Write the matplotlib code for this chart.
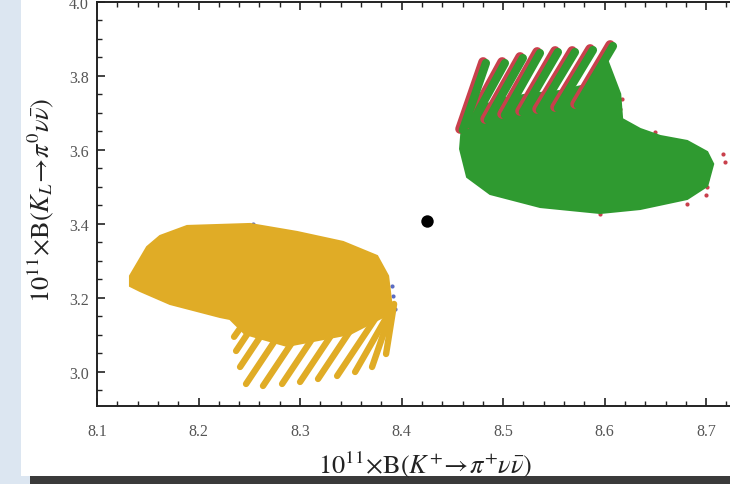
import matplotlib
matplotlib.use('Agg')
import matplotlib.pyplot as plt
from matplotlib.patches import Rectangle
from matplotlib.transforms import offset_copy
from matplotlib.ticker import MultipleLocator

plt.rcParams['mathtext.fontset'] = 'stix'
plt.rcParams['font.family'] = ['Liberation Serif', 'DejaVu Serif']

# ---------------- data ----------------
# orange (yellow) region: solid body outline
orange_body_x = [8.1325, 8.1493, 8.1621, 8.1887, 8.2507, 8.2970, 8.3424, 8.3759, 8.3867,
                 8.3906, 8.3818, 8.3493, 8.2872, 8.2458, 8.2310, 8.2212, 8.1719, 8.1424, 8.1325]
orange_body_y = [3.2595, 3.3378, 3.3676, 3.3946, 3.4000, 3.3784, 3.3514, 3.3135, 3.2595,
                 3.1703, 3.1486, 3.1027, 3.0703, 3.1027, 3.1432, 3.1486, 3.1838, 3.2189, 3.2324]
# orange stripes (lower end -> upper end)
orange_stripe_x0 = [8.2350, 8.2370, 8.2409, 8.2468, 8.2635, 8.2823, 8.3000, 8.3177, 8.3365, 8.3542, 8.3709, 8.3847]
orange_stripe_y0 = [3.0950, 3.0568, 3.0135, 2.9676, 2.9622, 2.9676, 2.9730, 2.9811, 2.9892, 3.0000, 3.0135, 3.0486]
orange_stripe_x1 = [8.2700, 8.2764, 8.2803, 8.2862, 8.3030, 8.3217, 8.3394, 8.3571, 8.3759, 8.3887, 8.3906, 8.3926]
orange_stripe_y1 = [3.2300, 3.2189, 3.1757, 3.1297, 3.1243, 3.1297, 3.1351, 3.1432, 3.1514, 3.1649, 3.1703, 3.1838]
# blue points peeking out of the orange region
blue_x = [8.2537, 8.3906, 8.3916, 8.3936]
blue_y = [3.4000, 3.2324, 3.2054, 3.1703]

# green region: solid body outline
green_body_x = [8.4576, 8.4596, 8.4724, 8.4970, 8.5266, 8.5562, 8.5857, 8.6030, 8.6153, 8.6172,
                8.6350, 8.6547, 8.6813, 8.7010, 8.7069, 8.7010, 8.6813, 8.6350, 8.5956, 8.5365,
                8.4872, 8.4645]
green_body_y = [3.6027, 3.6703, 3.7108, 3.7378, 3.7514, 3.7595, 3.7784, 3.8400, 3.7514, 3.6838,
                3.6568, 3.6378, 3.6243, 3.5946, 3.5622, 3.5027, 3.4676, 3.4405, 3.4297, 3.4459,
                3.4811, 3.5270]
# green stripes (upper end -> lower end)
green_stripe_x0 = [8.4803, 8.4990, 8.5167, 8.5335, 8.5512, 8.5680, 8.5857, 8.6054]
green_stripe_y0 = [3.8378, 3.8378, 3.8514, 3.8649, 3.8676, 3.8676, 3.8730, 3.8838]
green_stripe_x1 = [8.4576, 8.4655, 8.4823, 8.4990, 8.5167, 8.5335, 8.5512, 8.5709]
green_stripe_y1 = [3.6568, 3.6703, 3.6838, 3.6973, 3.7054, 3.7108, 3.7162, 3.7243]
# red points peeking out of the green region
red_x = [8.7167, 8.7187, 8.7010, 8.7010, 8.7000, 8.6813, 8.6153, 8.6172, 8.6498, 8.5956]
red_y = [3.5892, 3.5676, 3.5216, 3.5000, 3.4784, 3.4541, 3.7108, 3.7378, 3.6486, 3.4270]

# Standard Model point
sm_x = [8.425]
sm_y = [3.408]

# axes
x_range = (8.1, 8.753)
y_range = (2.908, 4.0)
xlabel = r'$10^{11}\!\times\!\mathrm{B}(K^{+}\!\rightarrow\!\pi^{+}\nu\bar{\nu})$'
ylabel = r'$10^{11}\!\times\!\mathrm{B}(K_{L}\!\rightarrow\!\pi^{0}\nu\bar{\nu})$'

ORANGE = '#e0ac26'
GREEN = '#2f9a30'
RED = '#c9404c'
BLUE = '#5a6cc4'

# ---------------- figure ----------------
W, H = 730, 485
fig = plt.figure(figsize=(W / 100, H / 100), dpi=100, facecolor='#dce6f1')
fig.patches.append(Rectangle((21 / W, 8 / H), 1 - 21 / W, 1 - 8 / H, transform=fig.transFigure,
                             facecolor='white', edgecolor='none', zorder=-10))
fig.patches.append(Rectangle((30 / W, 0), 1 - 30 / W, 8 / H, transform=fig.transFigure,
                             facecolor='#3a3a3a', edgecolor='none', zorder=-10))

ax = fig.add_axes([97 / W, 78 / H, 663 / W, 404 / H])
ax.set_zorder(1)
ax.set_facecolor('white')
ax.set_xlim(*x_range)
ax.set_ylim(*y_range)

# orange region
ax.fill(orange_body_x, orange_body_y, color=ORANGE, lw=1.5, ec=ORANGE, zorder=3)
for x0, y0, x1, y1 in zip(orange_stripe_x0, orange_stripe_y0, orange_stripe_x1, orange_stripe_y1):
    ax.plot([x0, x1], [y0, y1], color=ORANGE, lw=4.6, solid_capstyle='round', zorder=3)
ax.scatter(blue_x, blue_y, s=9, color=BLUE, zorder=2.5, linewidths=0)

# green region (red underneath)
ax.scatter(red_x, red_y, s=9, color=RED, zorder=2.5, linewidths=0)
ax.fill(green_body_x, green_body_y, color=GREEN, lw=1.5, ec=GREEN, zorder=3)
shift = offset_copy(ax.transData, fig=fig, x=2.0, y=-0.8, units='points')
for x0, y0, x1, y1 in zip(green_stripe_x0, green_stripe_y0, green_stripe_x1, green_stripe_y1):
    ax.plot([x0, x1], [y0, y1], color=RED, lw=7.0, solid_capstyle='round', zorder=3.2)
for x0, y0, x1, y1 in zip(green_stripe_x0, green_stripe_y0, green_stripe_x1, green_stripe_y1):
    ax.plot([x0, x1], [y0, y1], color=GREEN, lw=6.0, solid_capstyle='round', zorder=3.3,
            transform=shift)

# SM point
ax.scatter(sm_x, sm_y, s=80, color='black', zorder=5, linewidths=0)

# axes styling
for side in ['left', 'bottom', 'top']:
    ax.spines[side].set_linewidth(1.4)
    ax.spines[side].set_color('#222222')
ax.spines['right'].set_visible(False)
ax.xaxis.set_major_locator(MultipleLocator(0.1))
ax.xaxis.set_minor_locator(MultipleLocator(0.02))
ax.yaxis.set_major_locator(MultipleLocator(0.2))
ax.yaxis.set_minor_locator(MultipleLocator(0.05))
ax.tick_params(which='both', direction='in', top=True, right=False, color='#222222')
ax.tick_params(which='major', length=6, width=1.2, labelsize=11.5, labelcolor='#555555')
ax.tick_params(which='minor', length=3.5, width=1.0)
ax.tick_params(axis='x', which='major', pad=12)
ax.tick_params(axis='y', which='major', pad=6)

fig.text(425 / W, (H - 465) / H, xlabel, ha='center', va='center', fontsize=19, color='#222222')
fig.text(41 / W, (H - 200) / H, ylabel, ha='center', va='center', rotation=90,
         fontsize=19, color='#222222')

fig.savefig('out.png', dpi=100, facecolor=fig.get_facecolor())
